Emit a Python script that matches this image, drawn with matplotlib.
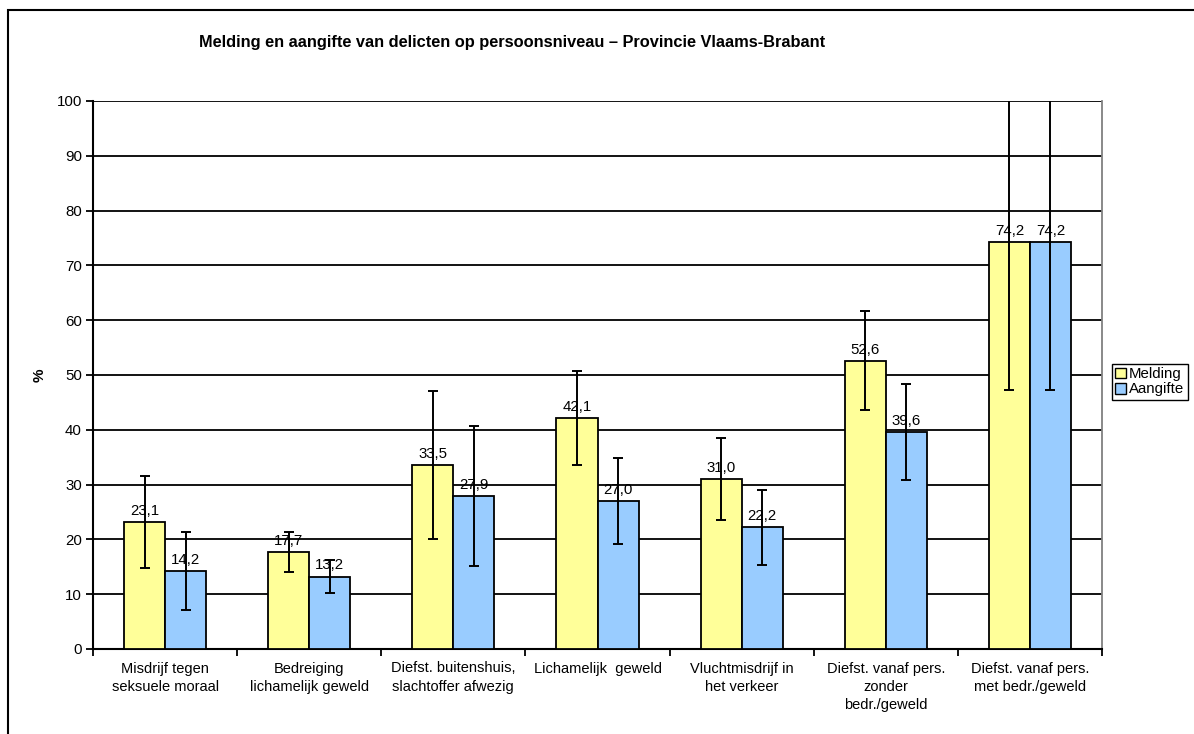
import numpy as np
import matplotlib
matplotlib.use("Agg")
import matplotlib.pyplot as plt
from matplotlib.patches import Rectangle, Patch

plt.rcParams['font.family'] = ['Liberation Sans', 'DejaVu Sans']

categories = ["Misdrijf tegen\nseksuele moraal",
              "Bedreiging\nlichamelijk geweld",
              "Diefst. buitenshuis,\nslachtoffer afwezig",
              "Lichamelijk  geweld",
              "Vluchtmisdrijf in\nhet verkeer",
              "Diefst. vanaf pers.\nzonder\nbedr./geweld",
              "Diefst. vanaf pers.\nmet bedr./geweld"]
melding = [23.1, 17.7, 33.5, 42.1, 31.0, 52.6, 74.2]
aangifte = [14.2, 13.2, 27.9, 27.0, 22.2, 39.6, 74.2]
# half widths of the confidence intervals
melding_err = [8.4, 3.6, 13.5, 8.6, 7.5, 9.0, 27.0]
aangifte_err = [7.1, 3.0, 12.8, 7.8, 6.8, 8.8, 27.0]

W, H = 1194, 734
fig = plt.figure(figsize=(W / 100, H / 100), dpi=100)

# outer chart border
fig.patches.append(Rectangle((8 / W, -0.1), 1.2, 0.1 + (H - 10) / H,
                             transform=fig.transFigure, fill=False,
                             edgecolor='black', lw=1.5))

ax = fig.add_axes([93 / W, (H - 649) / H, (1102 - 93) / W, (649 - 101) / H])

x = np.arange(len(categories))
bw = 0.285
ax.bar(x - bw / 2, melding, bw, color='#FFFF99', edgecolor='black', lw=1.3, zorder=3)
ax.bar(x + bw / 2, aangifte, bw, color='#99CCFF', edgecolor='black', lw=1.3, zorder=3)
ax.errorbar(x - bw / 2, melding, yerr=melding_err, fmt='none', ecolor='black',
            elinewidth=1.4, capsize=3.5, capthick=1.4, zorder=4)
ax.errorbar(x + bw / 2, aangifte, yerr=aangifte_err, fmt='none', ecolor='black',
            elinewidth=1.4, capsize=3.5, capthick=1.4, zorder=4)

for xi, v in zip(x, melding):
    ax.annotate(f"{v:.1f}".replace('.', ','), (xi - bw / 2, v), xytext=(0, 3),
                textcoords='offset points', ha='center', va='bottom', fontsize=10.8, zorder=5)
for xi, v in zip(x, aangifte):
    ax.annotate(f"{v:.1f}".replace('.', ','), (xi + bw / 2, v), xytext=(0, 3),
                textcoords='offset points', ha='center', va='bottom', fontsize=10.8, zorder=5)

ax.set_xlim(-0.5, len(categories) - 0.5)
ax.set_ylim(0, 100)
ax.set_yticks(range(0, 101, 10))
ax.yaxis.grid(True, color='black', lw=1.3)
ax.set_axisbelow(True)
ax.tick_params(axis='y', direction='out', length=5, width=1.3, labelsize=10.8, pad=3)

ax.set_xticks(x)
ax.set_xticklabels(categories, fontsize=10.5, linespacing=1.4)
ax.set_xticks(np.arange(-0.5, len(categories)), minor=True)
ax.tick_params(axis='x', which='major', length=0, pad=9)
ax.tick_params(axis='x', which='minor', direction='out', length=5, width=1.3)

ax.spines['top'].set_visible(False)
ax.spines['right'].set_color('#808080')
ax.spines['right'].set_linewidth(1.3)
ax.spines['left'].set_linewidth(1.5)
ax.spines['bottom'].set_linewidth(1.5)

ax.set_ylabel('%', fontsize=11, fontweight='bold', labelpad=7)

fig.text(512 / W, 1 - 43 / H,
         "Melding en aangifte van delicten op persoonsniveau \u2013 Provincie Vlaams-Brabant",
         ha='center', va='center', fontsize=11.8, fontweight='bold')

handles = [Patch(facecolor='#FFFF99', edgecolor='black'),
           Patch(facecolor='#99CCFF', edgecolor='black')]
fig.legend(handles, ['Melding', 'Aangifte'], loc='upper left',
           bbox_to_anchor=(1112 / W, 1 - 364 / H), fontsize=10.8,
           frameon=True, fancybox=False, edgecolor='black', framealpha=1,
           handlelength=0.7, handleheight=0.7, handletextpad=0.25,
           borderpad=0.2, labelspacing=0.1, borderaxespad=0)

fig.savefig('out.png', dpi=100)
